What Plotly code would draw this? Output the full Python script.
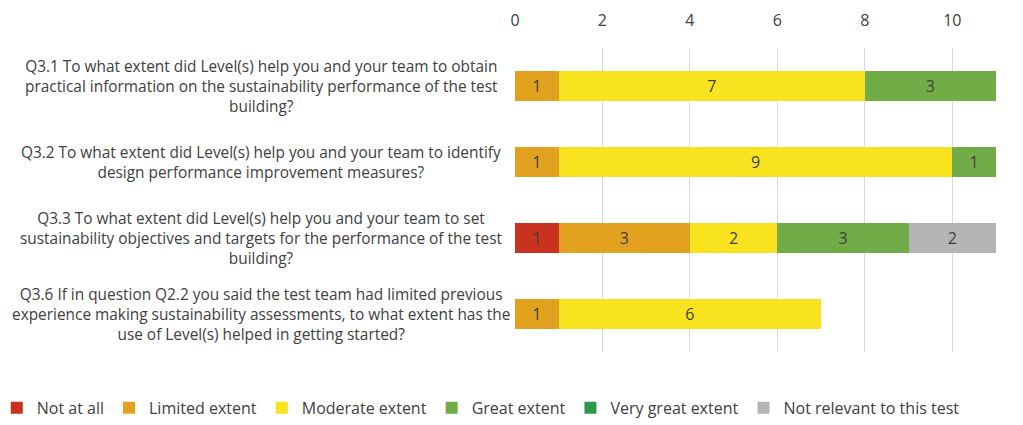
import plotly.graph_objects as go

categories = [
    "Q3.1 To what extent did Level(s) help you and your team to obtain<br>practical information on the sustainability performance of the test<br>building?",
    "Q3.2 To what extent did Level(s) help you and your team to identify<br>design performance improvement measures?",
    "Q3.3 To what extent did Level(s) help you and your team to set<br>sustainability objectives and targets for the performance of the test<br>building?",
    "Q3.6 If in question Q2.2 you said the test team had limited previous<br>experience making sustainability assessments, to what extent has the<br>use of Level(s) helped in getting started?",
]
cat_keys = ["Q3.1", "Q3.2", "Q3.3", "Q3.6"]

series_names = ["Not at all", "Limited extent", "Moderate extent", "Great extent",
                "Very great extent", "Not relevant to this test"]
not_at_all = [0, 0, 1, 0]
limited_extent = [1, 1, 3, 1]
moderate_extent = [7, 9, 2, 6]
great_extent = [3, 1, 3, 0]
very_great_extent = [0, 0, 0, 0]
not_relevant = [0, 0, 2, 0]
series_values = [not_at_all, limited_extent, moderate_extent, great_extent,
                 very_great_extent, not_relevant]
colors = ["#C8321E", "#E2A11E", "#F9E31F", "#72AC46", "#2E9A47", "#B4B4B4"]

x_ticks = [0, 2, 4, 6, 8, 10]

FONT = "Open Sans"
TXT = "#404040"

fig = go.Figure()
for name, vals, col in zip(series_names, series_values, colors):
    fig.add_trace(go.Bar(
        name=name,
        y=cat_keys,
        x=[v if v else None for v in vals],
        orientation="h",
        marker=dict(color=col, line=dict(width=0)),
        text=[str(v) if v else "" for v in vals],
        textposition="inside",
        insidetextanchor="middle",
        textangle=0,
        constraintext="none",
        textfont=dict(family=FONT, size=16, color=TXT),
        hoverinfo="x+name",
    ))

for key, label in zip(cat_keys, categories):
    fig.add_annotation(
        x=-0.528, xref="paper", y=key, yref="y",
        text=label, showarrow=False, xanchor="center", yanchor="middle",
        align="center", font=dict(family=FONT, size=15.4, color=TXT),
    )

fig.update_layout(
    width=1023, height=425,
    barmode="stack",
    bargap=0.6,
    plot_bgcolor="white", paper_bgcolor="white",
    margin=dict(l=507, r=35, t=40, b=81, autoexpand=False),
    font=dict(family=FONT, color=TXT),
    xaxis=dict(
        side="top", range=[0, 11], tickvals=x_ticks,
        showgrid=True, gridcolor="#D9D9D9", gridwidth=1,
        zeroline=False, showline=False, ticks="",
        tickfont=dict(family=FONT, size=16, color=TXT),
        ticklabelstandoff=18,
    ),
    yaxis=dict(
        categoryorder="array", categoryarray=cat_keys[::-1],
        showticklabels=False, showgrid=False, zeroline=False, ticks="",
    ),
    legend=dict(
        orientation="h", xref="paper", yref="paper",
        x=-1.0774, y=-0.184, xanchor="left", yanchor="middle",
        font=dict(family=FONT, size=16, color=TXT),
        itemwidth=30, traceorder="normal",
    ),
    showlegend=True,
)

fig.write_html("out.html")
